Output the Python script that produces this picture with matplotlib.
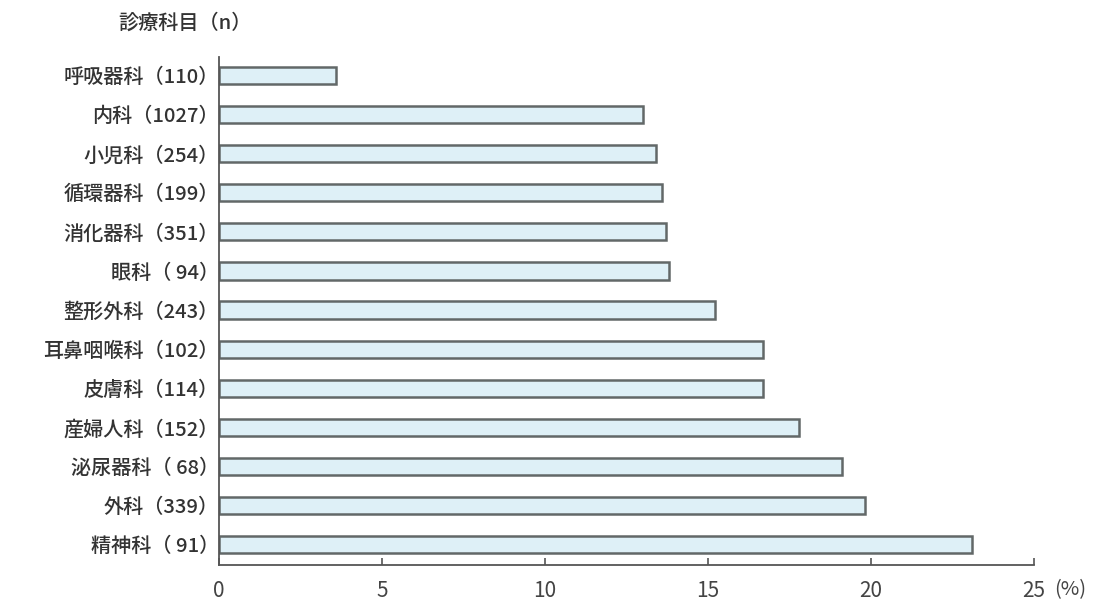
import matplotlib
matplotlib.use('Agg')
import matplotlib.pyplot as plt
import numpy as np

plt.rcParams['font.family'] = ['Noto Sans CJK JP', 'DejaVu Sans']

# 診療科目と回答数、割合(%)
departments = ['呼吸器科', '内科', '小児科', '循環器科', '消化器科', '眼科', '整形外科',
               '耳鼻咽喉科', '皮膚科', '産婦人科', '泌尿器科', '外科', '精神科']
counts = ['110', '1027', '254', '199', '351', ' 94', '243',
          '102', '114', '152', ' 68', '339', ' 91']
percent = [3.6, 13.0, 13.4, 13.6, 13.7, 13.8, 15.2,
           16.7, 16.7, 17.8, 19.1, 19.8, 23.1]
x_ticks = [0, 5, 10, 15, 20, 25]

labels = [f'{d}（{c}）' for d, c in zip(departments, counts)]
y = np.arange(len(departments))

fig = plt.figure(figsize=(11.09, 6.08), dpi=100)
ax = fig.add_axes([0.1975, 0.0707, 0.7349, 0.8355])

ax.barh(y, percent, height=0.44, color='#def0f7', edgecolor='#626868', linewidth=1.8)

ax.set_xlim(0, 25)
ax.set_ylim(12.52, -0.47)
ax.set_yticks(y)
ax.set_yticklabels(labels, fontsize=14.5, color='#333333', fontweight='medium')
ax.tick_params(axis='y', length=0, pad=0)

ax.set_xticks(x_ticks)
ax.set_xticklabels([str(t) for t in x_ticks], fontsize=15, color='#444444')
ax.tick_params(axis='x', direction='in', length=5, width=1.2, color='#555555', pad=11)

for side in ['top', 'right']:
    ax.spines[side].set_visible(False)
for side in ['left', 'bottom']:
    ax.spines[side].set_color('#555555')
    ax.spines[side].set_linewidth(1.3)

fig.text(0.965, 0.0305, '(%)', fontsize=14.5, color='#444444', ha='center', va='center')
fig.text(0.167, 0.962, '診療科目（n）', fontsize=14.5, color='#333333', ha='center', va='center',
         fontweight='medium')

fig.savefig('out.png', dpi=100, facecolor='white')
